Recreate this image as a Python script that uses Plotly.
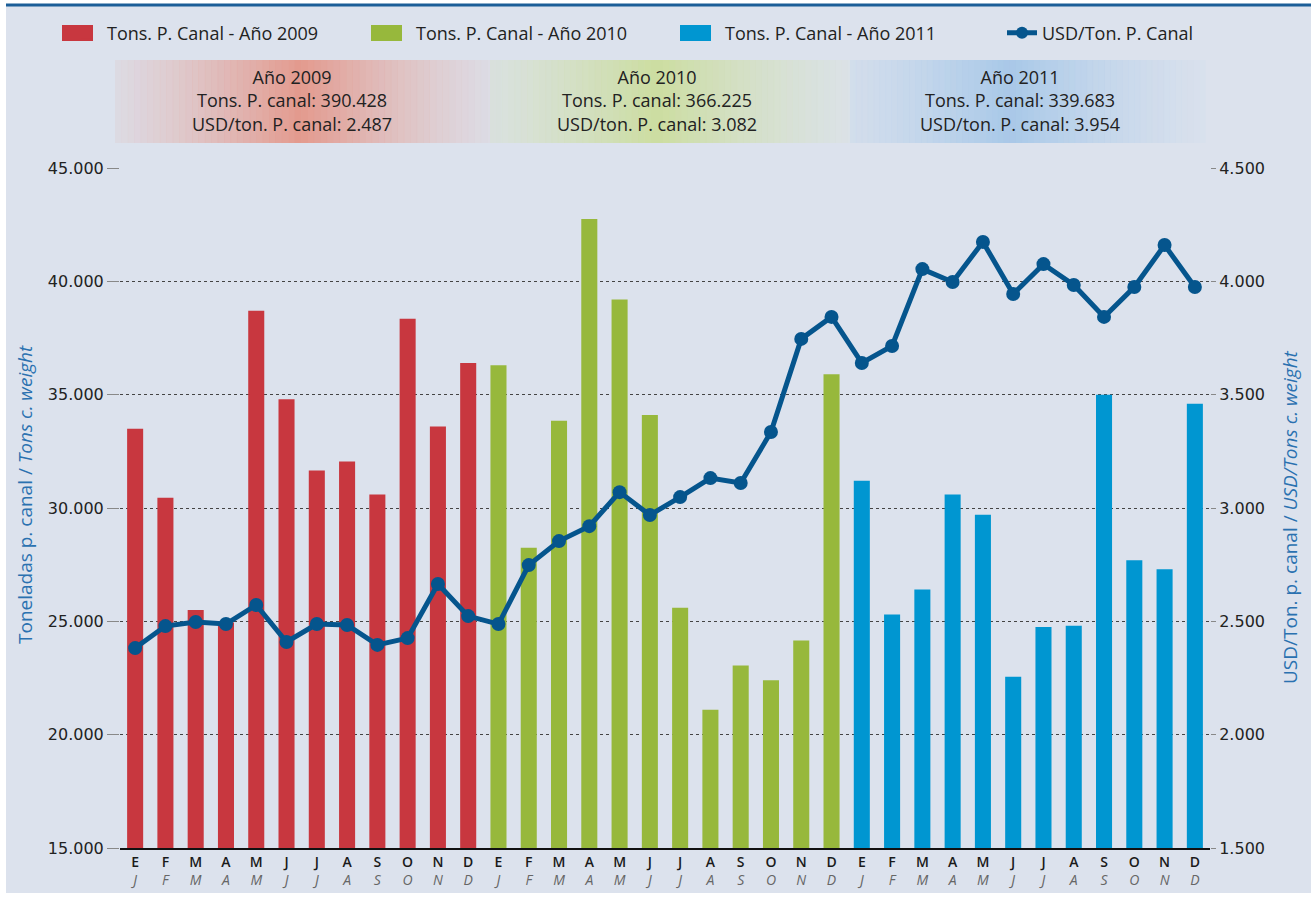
import plotly.graph_objects as go

months_es = ["E", "F", "M", "A", "M", "J", "J", "A", "S", "O", "N", "D"]
months_en = ["J", "F", "M", "A", "M", "J", "J", "A", "S", "O", "N", "D"]
years = ["2009", "2010", "2011"]

tons_2009 = [33500, 30450, 25500, 24950, 38700, 34800, 31650, 32050, 30600, 38350, 33600, 36400]
tons_2010 = [36300, 28250, 33850, 42750, 39200, 34100, 25600, 21100, 23050, 22400, 24150, 35900]
tons_2011 = [31200, 25300, 26400, 30600, 29700, 22550, 24750, 24800, 35000, 27700, 27300, 34600]

usd_ton = [2382, 2479, 2497, 2488, 2572, 2409, 2488, 2484, 2396, 2426, 2665, 2523,
           2488, 2748, 2854, 2920, 3070, 2969, 3048, 3132, 3110, 3335, 3746, 3843,
           3640, 3715, 4054, 3997, 4174, 3944, 4076, 3984, 3843, 3975, 4160, 3975]

summary_tons = ["390.428", "366.225", "339.683"]
summary_usd = ["2.487", "3.082", "3.954"]

bar_colors = ["#c8373f", "#97b83c", "#0096d1"]
line_color = "#05558d"
bg = "#dce2ed"

W, H = 1311, 897
L, R, T, B = 120, 101, 168, 49
pw, ph = W - L - R, H - T - B

def px2x(px):
    return (px - L) / pw

def py2y(py):
    return (H - B - py) / ph

legend_ids = ["legend", "legend2", "legend3", "legend4"]
legend_text_x = [108, 417, 726, 1043]

fig = go.Figure()
series = [tons_2009, tons_2010, tons_2011]
for i, (yr, vals) in enumerate(zip(years, series)):
    fig.add_trace(go.Bar(
        x=[i * 12 + k for k in range(12)], y=vals,
        name=f"Tons. P. Canal - Año {yr}",
        marker=dict(color=bar_colors[i], line=dict(width=0)),
        yaxis="y", legend=legend_ids[i],
    ))

fig.add_trace(go.Scatter(
    x=list(range(36)), y=usd_ton, name="USD/Ton. P. Canal",
    mode="lines+markers", yaxis="y2", legend=legend_ids[3],
    line=dict(color=line_color, width=5),
    marker=dict(color=line_color, size=14),
))

ticktext = [f"{e}<br><span style='color:#666;font-weight:normal'><i>{n}</i></span>"
            for _ in range(3) for e, n in zip(months_es, months_en)]

shapes = []
shapes.append(dict(type="rect", xref="paper", yref="paper", layer="below",
                   x0=px2x(6), x1=px2x(1311), y0=py2y(893), y1=py2y(4),
                   fillcolor=bg, line=dict(width=0)))
shapes.append(dict(type="line", xref="paper", yref="paper",
                   x0=px2x(6), x1=px2x(1311), y0=py2y(5), y1=py2y(5),
                   line=dict(color="#1b5e98", width=3)))
# wider legend swatches for the bar series
for tx, col in zip(legend_text_x[:3], bar_colors):
    shapes.append(dict(type="rect", xref="paper", yref="paper", layer="below",
                       x0=px2x(tx - 46), x1=px2x(tx - 15), y0=py2y(41), y1=py2y(25),
                       fillcolor=col, line=dict(width=0)))

def hex2rgb(h):
    h = h.lstrip("#")
    return tuple(int(h[i:i + 2], 16) for i in (0, 2, 4))

box_specs = [
    (115, 500, "#e3998d", 0.48),
    (490, 860, "#ccdda0", 0.45),
    (850, 1205, "#a8c8e8", 0.45),
]
bgc = hex2rgb(bg)
nstrips = 60
for x0b, x1b, peak, pc in box_specs:
    pk = hex2rgb(peak)
    wstrip = (x1b - x0b) / nstrips
    for s in range(nstrips):
        u = (s + 0.5) / nstrips
        d = abs(u - pc) / max(pc, 1 - pc)
        t = 0.08 + 0.92 * (1 - d) ** 1.0
        c = tuple(int(round(bgc[j] + (pk[j] - bgc[j]) * t)) for j in range(3))
        shapes.append(dict(type="rect", xref="paper", yref="paper", layer="below",
                           x0=px2x(x0b + s * wstrip), x1=px2x(x0b + (s + 1) * wstrip + 0.6),
                           y0=py2y(143), y1=py2y(60),
                           fillcolor=f"rgba({c[0]},{c[1]},{c[2]},{0.6 + 0.4 * t:.3f})",
                           line=dict(width=0)))

annotations = []
centers = [292, 657, 1020]
for cx, yr, tt, uu in zip(centers, years, summary_tons, summary_usd):
    annotations.append(dict(
        xref="paper", yref="paper", x=px2x(cx), y=py2y(101), showarrow=False,
        xanchor="center", yanchor="middle",
        text=f"Año {yr}<br>Tons. P. canal: {tt}<br>USD/ton. P. canal: {uu}",
        font=dict(family="Open Sans", size=18, color="#222"), align="center"))

annotations.append(dict(
    xref="paper", yref="paper", x=px2x(25), y=py2y(495), showarrow=False,
    textangle=-90, xanchor="center", yanchor="middle",
    text="Toneladas p. canal / <i>Tons c. weight</i>",
    font=dict(family="Open Sans", size=19, color="#2a71b0")))
annotations.append(dict(
    xref="paper", yref="paper", x=px2x(1290), y=py2y(517), showarrow=False,
    textangle=-90, xanchor="center", yanchor="middle",
    text="USD/Ton. p. canal / <i>USD/Tons c. weight</i>",
    font=dict(family="Open Sans", size=19, color="#2a71b0")))

legend_layout = {}
for lid, tx in zip(legend_ids, legend_text_x):
    legend_layout[lid] = dict(
        orientation="h", xref="container", yref="container",
        x=(tx - 41) / W, y=1 - 33 / H, xanchor="left", yanchor="middle",
        font=dict(family="Open Sans", size=18, color="#222"),
        bgcolor="rgba(0,0,0,0)", itemsizing="constant")

fig.update_layout(
    width=W, height=H,
    margin=dict(l=L, r=R, t=T, b=B, autoexpand=False),
    paper_bgcolor="white", plot_bgcolor=bg,
    separators=",.",
    barmode="overlay", bargap=0.47,
    showlegend=True,
    xaxis=dict(range=[-0.5, 35.5], tickmode="array", tickvals=list(range(36)),
               ticktext=ticktext, showgrid=False, zeroline=False,
               showline=True, linecolor="#111", linewidth=2,
               tickfont=dict(family="Open Sans", size=14, color="#1a1a1a", weight=600),
               ticks=""),
    yaxis=dict(range=[15000, 45000], tickvals=[15000, 20000, 25000, 30000, 35000, 40000, 45000],
               tickformat=",.0f", showgrid=True, gridcolor="#444", griddash="dot",
               gridwidth=1, zeroline=False, ticks="outside", ticklen=12,
               tickcolor="#888", tickfont=dict(family="DejaVu Sans", size=16, color="#222")),
    yaxis2=dict(range=[1500, 4500], tickvals=[1500, 2000, 2500, 3000, 3500, 4000, 4500],
                tickformat=",.0f", overlaying="y", side="right", showgrid=False,
                zeroline=False, ticks="outside", ticklen=5, tickcolor="#888",
                tickfont=dict(family="DejaVu Sans", size=16, color="#222")),
    shapes=shapes, annotations=annotations,
    **legend_layout,
)

fig.write_html("out.html", config={"displayModeBar": False},
               post_script="document.body.style.margin='0';document.body.style.overflow='hidden';")
